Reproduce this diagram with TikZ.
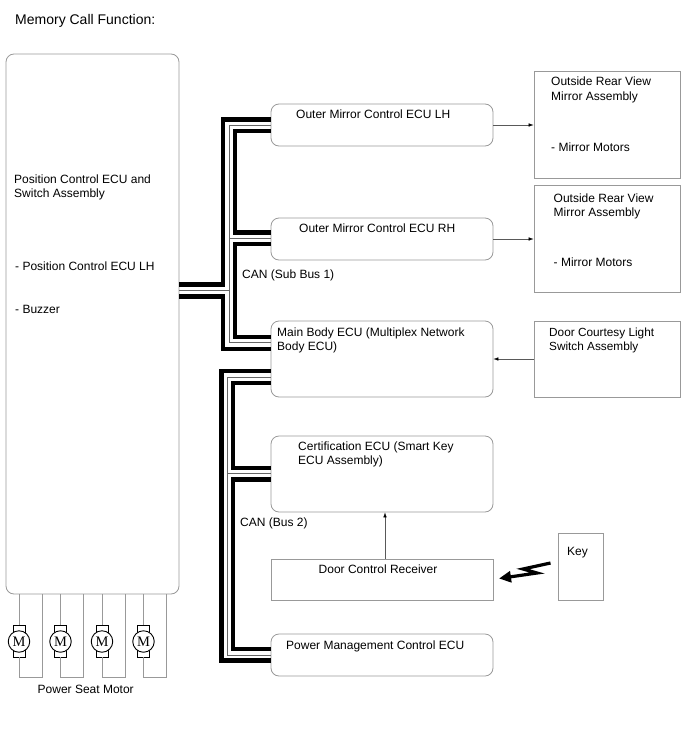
\documentclass[tikz,border=0pt]{standalone}
\usepackage{fontspec}
\setmainfont{Liberation Sans}
\newfontfamily\motorfont{Liberation Serif}
\usetikzlibrary{arrows.meta}
\tikzset{
  ecu/.style={draw=gray!80,line width=0.8pt,rounded corners=8pt,minimum width=222pt,inner sep=0pt},
  plainbox/.style={draw=gray!80,line width=0.8pt,inner sep=0pt},
  lbl/.style={anchor=north west,inner sep=0pt,align=left,font=\fontsize{12}{14}\selectfont},
  heavy/.style={line width=4.6pt,black,miter limit=10},
  thin bus/.style={line width=0.8pt,gray!80!black},
  sig/.style={line width=0.5pt,gray!70!black,-{Latex[length=5pt,width=3.5pt,black]}},
  wire/.style={line width=0.8pt,gray!80},
  tab/.style={draw=black,line width=0.9pt,fill=white,minimum width=12pt,minimum height=32pt,inner sep=0pt},
  coil/.style={draw=black,line width=0.9pt,fill=white,circle,minimum size=21.5pt,inner sep=0pt,font=\motorfont\fontsize{14.5}{14.5}\selectfont}
}
\begin{document}
\begin{tikzpicture}[x=1pt,y=-1pt]
\useasboundingbox (0,0) rectangle (688,755);
\node[lbl,font=\fontsize{14}{16}\selectfont] (title) at (15,14) {Memory Call Function:};
% left hand unit
\node[ecu,minimum width=173pt,minimum height=540pt] (seat) at (92.5,324) {};
\node[lbl] (seatname) at (14,174.5) {Position Control ECU and\\Switch Assembly};
\node[lbl] (seatecu) at (15,262) {- Position Control ECU LH};
\node[lbl] (buzzer) at (15,305) {- Buzzer};
% control units in the middle column
\node[ecu,minimum height=42pt] (lh) at (382,125) {};
\node[lbl] (lhname) at (296,109.5) {Outer Mirror Control ECU LH};
\node[ecu,minimum height=42pt] (rh) at (382,239) {};
\node[lbl] (rhname) at (299,223.5) {Outer Mirror Control ECU RH};
\node[ecu,minimum height=76pt] (body) at (382,359) {};
\node[lbl] (bodyname) at (277,327.5) {Main Body ECU (Multiplex Network\\Body ECU)};
\node[ecu,minimum height=76pt] (cert) at (382,474) {};
\node[lbl] (certname) at (298,441.5) {Certification ECU (Smart Key\\ECU Assembly)};
\node[plainbox,minimum width=222pt,minimum height=41pt] (rcv) at (382,579.5) {};
\node[lbl] (rcvname) at (318.5,565) {Door Control Receiver};
\node[ecu,minimum height=42pt] (pwr) at (382,655) {};
\node[lbl] (pwrname) at (286,640.5) {Power Management Control ECU};
% right column
\node[plainbox,minimum width=146pt,minimum height=107pt] (mirl) at (607,124.5) {};
\node[lbl,font=\fontsize{12}{15}\selectfont] (mirlname) at (551,77) {Outside Rear View\\Mirror Assembly};
\node[lbl] (mirlsub) at (551,142.5) {- Mirror Motors};
\node[plainbox,minimum width=146pt,minimum height=107pt] (mirr) at (607,238.5) {};
\node[lbl] (mirrname) at (553.5,193.5) {Outside Rear View\\Mirror Assembly};
\node[lbl] (mirrsub) at (553.5,257.5) {- Mirror Motors};
\node[plainbox,minimum width=146pt,minimum height=76pt] (door) at (607,359) {};
\node[lbl,font=\fontsize{11.8}{14}\selectfont] (doorname) at (549,327.5) {Door Courtesy Light\\Switch Assembly};
\node[plainbox,minimum width=45pt,minimum height=67pt] (key) at (580.5,566.5) {};
\node[lbl] (keyname) at (567,547) {Key};
% CAN sub bus
\coordinate (subtop) at (223,284.5);
\coordinate (submid) at (229,290);
\coordinate (sublow) at (223,296.5);
\coordinate (subin) at (235,244);
\draw[heavy] (seat.east |- subtop) -- (subtop) |- (lh.west |- 0,119.5);
\draw[heavy] (seat.east |- sublow) -- (sublow) |- (body.west |- 0,349);
\draw[thin bus] (seat.east |- submid) -- (submid);
\draw[thin bus] (lh.west |- 0,125) -| (229,342) -- (body.west |- 0,342);
\draw[thin bus] (229,238) -- (rh.west |- 0,238);
\draw[heavy] (lh.west |- 0,131) -| (235,232.5) -- (rh.west |- 0,232.5);
\draw[heavy] (rh.west |- subin) -- (subin) |- (body.west |- 0,337);
% CAN bus 2
\coordinate (mainout) at (221.5,371);
\draw[heavy] (body.west |- mainout) -- (mainout) |- (pwr.west |- 0,660.5);
\draw[thin bus] (body.west |- 0,377) -| (227.5,655) -- (pwr.west |- 0,655);
\draw[thin bus] (227.5,473.5) -- (cert.west |- 0,473.5);
\draw[heavy] (body.west |- 0,383) -| (233,468) -- (cert.west |- 0,468);
\draw[heavy] (cert.west |- 0,479.5) -| (233,649) -- (pwr.west |- 0,649);
\node[lbl] (subname) at (242,270) {CAN (Sub Bus 1)};
\node[lbl] (bus2name) at (240,518) {CAN (Bus 2)};
% signal arrows
\draw[sig] (lh.east) -- (mirl.west |- lh.east);
\draw[sig] (rh.east) -- (mirr.west |- rh.east);
\draw[sig] (door.west) -- (body.east);
\draw[sig] (rcv.north -| 385,0) -- (cert.south -| 385,0);
% radio link from the key
\coordinate (zigA) at (550.5,563);
\coordinate (zigB) at (523,569);
\coordinate (zigC) at (537,573);
\coordinate (zigD) at (499,578.5);
\draw[line width=3.2pt,black,-{Triangle[length=12pt,width=11pt]}] (zigA) -- (zigB) -- (zigC) -- (zigD);
% seat motors
\node[tab] (m1tab) at (19,641) {};
\node[coil] (m1) at (19,641.5) {M};
\node[tab] (m2tab) at (60.5,641) {};
\node[coil] (m2) at (60.5,641.5) {M};
\node[tab] (m3tab) at (102,641) {};
\node[coil] (m3) at (102,641.5) {M};
\node[tab] (m4tab) at (143.5,641) {};
\node[coil] (m4) at (143.5,641.5) {M};
\draw[wire] (seat.south -| m1tab) -- (m1tab.north);
\draw[wire] (m1tab.south) |- (42,677) -- (seat.south -| 42,0);
\draw[wire] (seat.south -| m2tab) -- (m2tab.north);
\draw[wire] (m2tab.south) |- (83.5,677) -- (seat.south -| 83.5,0);
\draw[wire] (seat.south -| m3tab) -- (m3tab.north);
\draw[wire] (m3tab.south) |- (125,677) -- (seat.south -| 125,0);
\draw[wire] (seat.south -| m4tab) -- (m4tab.north);
\draw[wire] (m4tab.south) |- (166,677) -- (seat.south -| 166,0);
\node[lbl] (motorname) at (37.5,685) {Power Seat Motor};
\end{tikzpicture}
\end{document}
